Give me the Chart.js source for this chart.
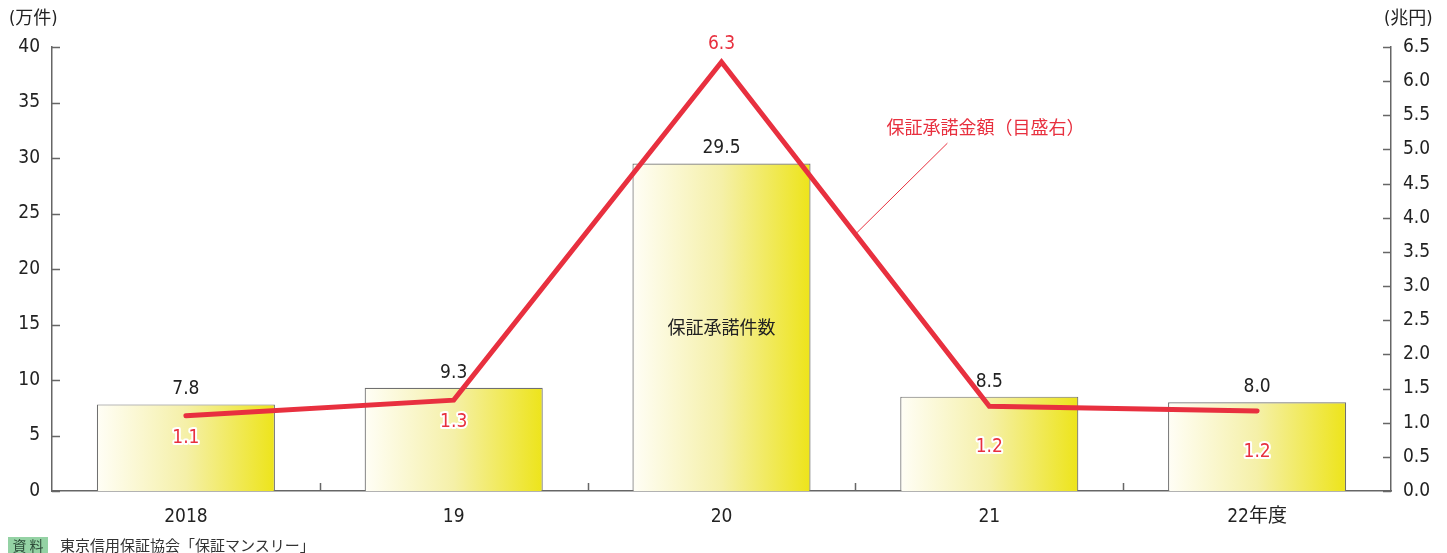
<!DOCTYPE html>
<html>
<head>
<meta charset="utf-8">
<script src="https://cdn.jsdelivr.net/npm/chart.js@4.4.1/dist/chart.umd.min.js"></script>
<style>
  html, body { margin: 0; padding: 0; background: #fff; }
  #wrap { position: relative; width: 1447px; height: 553px; }
  #source {
    position: absolute; left: 8px; top: 536px;
    font-family: "Noto Sans CJK JP", sans-serif; font-size: 15px; color: #333;
    line-height: 17px; white-space: nowrap;
  }
  #source .tag { display: inline-block; width: 40px; text-align: center; background: #94d2a4; color: #2d4a38; font-size: 14px; margin-right: 12px; }
</style>
</head>
<body>
<div id="wrap">
  <canvas id="chart" width="1447" height="553"></canvas>
  <div id="source"><span class="tag">資 料</span>東京信用保証協会「保証マンスリー」</div>
</div>
<script>
const years = ["2018", "19", "20", "21", "22年度"];
const guaranteeCount = [7.8, 9.3, 29.5, 8.5, 8.0];      // 万件
const guaranteeAmount = [1.1, 1.33, 6.28, 1.24, 1.17];  // 兆円
const leftTicks = { min: 0, max: 40, step: 5 };
const rightTicks = { min: 0, max: 6.5, step: 0.5 };

const RED = "#e8303f";
const NUM_FAMILY = "'Liberation Sans Narrow', 'DejaVu Sans Condensed', Roboto";
const NUM_SIZE = 19;
const NUM_FONT = NUM_SIZE + "px " + NUM_FAMILY;
const JP_FONT = "Noto Sans CJK JP";
const BAR_PCT = 0.665;
// vertical offset (px) of each amount label from its line point
const amountLabelDy = [22, 22, -18, 41, 41];

function barGradient(ctx) {
  const chart = ctx.chart;
  const x = chart.scales.x;
  if (!x || !chart.chartArea) return "#f4ef9c";
  const cx = x.getPixelForValue(ctx.dataIndex);
  const half = (x.right - x.left) / years.length * BAR_PCT / 2;
  const g = chart.ctx.createLinearGradient(cx - half, 0, cx + half, 0);
  g.addColorStop(0, "#fffef6");
  g.addColorStop(0.5, "#f5f0a8");
  g.addColorStop(1, "#ede41a");
  return g;
}

const axisDecor = {
  id: "axisDecor",
  afterDraw(chart) {
    const { ctx, chartArea: a, scales } = chart;
    ctx.save();
    ctx.strokeStyle = "#666";
    ctx.lineWidth = 1.5;
    ctx.beginPath();
    scales.y.ticks.forEach(t => {
      const py = Math.round(scales.y.getPixelForValue(t.value)) + 0.5;
      ctx.moveTo(a.left, py); ctx.lineTo(a.left + 8, py);
    });
    scales.y1.ticks.forEach(t => {
      const py = Math.round(scales.y1.getPixelForValue(t.value)) + 0.5;
      ctx.moveTo(a.right, py); ctx.lineTo(a.right - 8, py);
    });
    const cw = (a.right - a.left) / years.length;
    for (let i = 1; i < years.length; i++) {
      const px = Math.round(a.left + cw * i) + 0.5;
      ctx.moveTo(px, a.bottom); ctx.lineTo(px, a.bottom - 8);
    }
    ctx.stroke();

    // unit labels
    ctx.fillStyle = "#222";
    ctx.font = "18px " + NUM_FAMILY + ", '" + JP_FONT + "'";
    ctx.textBaseline = "middle";
    ctx.textAlign = "left";
    ctx.fillText("(万件)", 9, 19);
    ctx.fillText("(兆円)", 1384, 19);
    ctx.restore();
  }
};

const valueLabels = {
  id: "valueLabels",
  afterDatasetsDraw(chart) {
    const { ctx } = chart;
    const bars = chart.getDatasetMeta(1).data;
    const pts = chart.getDatasetMeta(0).data;
    ctx.save();
    ctx.textAlign = "center";
    ctx.textBaseline = "middle";

    // bar values
    ctx.font = NUM_FONT;
    ctx.fillStyle = "#222";
    bars.forEach((b, i) => {
      ctx.fillText(guaranteeCount[i].toFixed(1), b.x, b.y - 15);
    });

    // series name inside tallest bar
    const big = bars[2];
    ctx.font = "18px '" + JP_FONT + "'";
    ctx.fillText("保証承諾件数", big.x, 327);

    // amount labels
    ctx.font = NUM_FONT;
    ctx.lineJoin = "round";
    pts.forEach((p, i) => {
      const y = p.y + amountLabelDy[i];
      ctx.strokeStyle = "#fff";
      ctx.lineWidth = 4;
      ctx.strokeText(guaranteeAmount[i].toFixed(1), p.x, y);
      ctx.fillStyle = RED;
      ctx.fillText(guaranteeAmount[i].toFixed(1), p.x, y);
    });

    // leader line + series name
    const p2 = pts[2], p3 = pts[3];
    const sx = p2.x + (p3.x - p2.x) * 0.5;
    const sy = p2.y + (p3.y - p2.y) * 0.5;
    ctx.strokeStyle = RED;
    ctx.lineWidth = 1;
    ctx.beginPath();
    ctx.moveTo(sx, sy);
    ctx.lineTo(sx + 92, sy - 91);
    ctx.stroke();
    ctx.fillStyle = RED;
    ctx.font = "18px '" + JP_FONT + "'";
    ctx.fillText("保証承諾金額（目盛右）", sx + 130, sy - 107);
    ctx.restore();
  }
};

new Chart(document.getElementById("chart"), {
  data: {
    labels: years,
    datasets: [
      {
        type: "line",
        label: "保証承諾金額（目盛右）",
        data: guaranteeAmount,
        yAxisID: "y1",
        borderColor: RED,
        borderWidth: 5,
        borderCapStyle: "round",
        borderJoinStyle: "miter",
        pointRadius: 0,
        tension: 0,
        order: 0,
      },
      {
        type: "bar",
        label: "保証承諾件数",
        data: guaranteeCount,
        yAxisID: "y",
        backgroundColor: barGradient,
        borderColor: "#707070",
        borderWidth: { top: 1.2, left: 1.2, right: 1.2, bottom: 0 },
        barPercentage: BAR_PCT,
        categoryPercentage: 1,
        order: 1,
      },
    ],
  },
  options: {
    responsive: false,
    animation: false,
    layout: { padding: { top: 47, left: 0, right: 0, bottom: 0 } },
    plugins: { legend: { display: false }, tooltip: { enabled: false } },
    scales: {
      x: {
        offset: true,
        grid: { display: false },
        border: { display: true, color: "#666", width: 1.5 },
        ticks: { color: "#222", font: { family: NUM_FAMILY + ", '" + JP_FONT + "'", size: NUM_SIZE }, padding: 7 },
        afterFit: s => { s.height = 62; },
      },
      y: {
        position: "left",
        min: leftTicks.min,
        max: leftTicks.max,
        grid: { display: false, drawTicks: false },
        border: { display: true, color: "#666", width: 1.5 },
        ticks: { stepSize: leftTicks.step, color: "#222", font: { family: NUM_FAMILY, size: NUM_SIZE }, padding: 12 },
        afterFit: s => { s.width = 52; },
      },
      y1: {
        position: "right",
        min: rightTicks.min,
        max: rightTicks.max,
        grid: { display: false, drawTicks: false },
        border: { display: true, color: "#666", width: 1.5 },
        ticks: {
          stepSize: rightTicks.step,
          color: "#222",
          font: { family: NUM_FAMILY, size: NUM_SIZE },
          padding: 12,
          callback: v => Number(v).toFixed(1),
        },
        afterFit: s => { s.width = 56; },
      },
    },
  },
  plugins: [axisDecor, valueLabels],
});
</script>
</body>
</html>
